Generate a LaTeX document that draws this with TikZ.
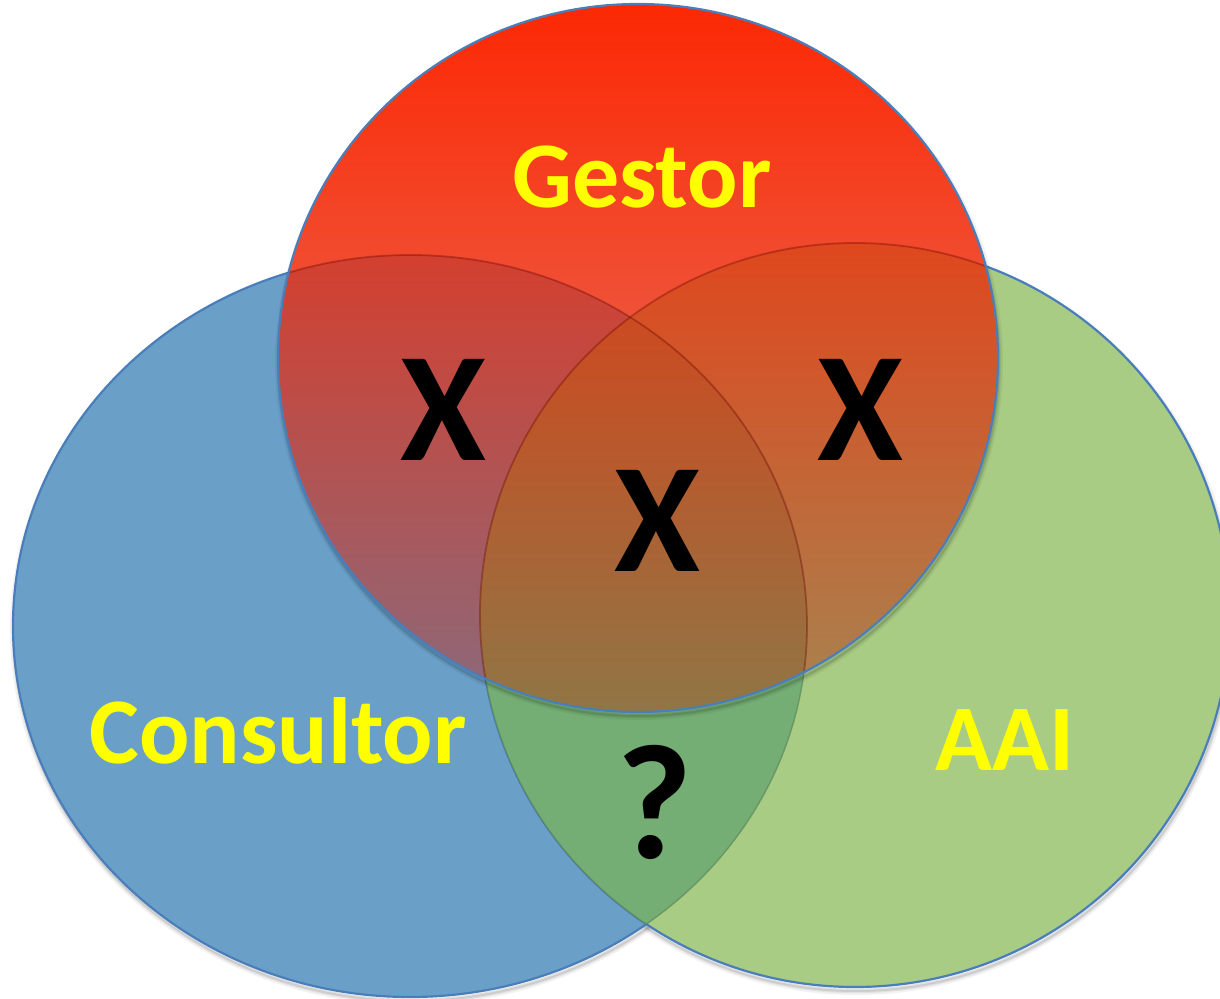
\documentclass[tikz,border=0pt]{standalone}
\usepackage{fontspec}
\setmainfont{Carlito}
\definecolor{cblue}{HTML}{6AA0C8}
\definecolor{cgreen}{HTML}{A8CC84}
\definecolor{cboth}{HTML}{74AE74}
\definecolor{edge}{HTML}{4A7EBB}
\definecolor{redtop}{RGB}{252,40,4}
\definecolor{redwhite}{RGB}{223,135,121}
\definecolor{redblue}{RGB}{138,106,124}
\definecolor{redgreen}{RGB}{167,132,80}
\definecolor{redboth}{RGB}{144,118,69}
\definecolor{lbl}{HTML}{FFFF00}
\begin{document}
\begin{tikzpicture}[x=0.5pt,y=-0.5pt,
  rim/.style={draw=edge, line width=1.1pt},
  inner/.style={draw=cboth!75!black, line width=0.7pt, draw opacity=0.6},
  ghost/.style={draw=black!60!red, line width=0.9pt, draw opacity=0.35},
  shade1/.style={draw=black, draw opacity=0.05, line width=4pt},
  shade2/.style={draw=black, draw opacity=0.07, line width=2.2pt},
  shade3/.style={draw=black, draw opacity=0.09, line width=1pt},
  lab/.style={text=lbl, font=\fontsize{47}{47}\selectfont\bfseries, anchor=base, inner sep=0pt},
  xmark/.style={text=black, font=\fontsize{78}{78}\selectfont\bfseries, anchor=base, inner sep=0pt}]
\def\Blue{(410,626) ellipse [x radius=397, y radius=371]}
\def\Green{(855,615) ellipse [x radius=375, y radius=372]}
\def\Red{(638,358) ellipse [x radius=360, y radius=354]}
\useasboundingbox (0,0) rectangle (1220,999);
\clip (0,0) rectangle (1220,999);
% shadows of blue and green on the white ground
\foreach \s in {shade1,shade2,shade3}{
  \draw[\s] (411,630) ellipse [x radius=397, y radius=371];
  \draw[\s] (856,619) ellipse [x radius=375, y radius=372];
}
% blue circle
\fill[cblue] \Blue;
\draw[rim] \Blue;
% green circle
\fill[cgreen] \Green;
\draw[rim] \Green;
% blue-green overlap
\begin{scope}
  \clip \Blue;
  \fill[cboth] \Green;
  \draw[inner] \Green;
\end{scope}
\begin{scope}
  \clip \Green;
  \draw[inner] \Blue;
\end{scope}
% shadow of red circle, outside it only
\begin{scope}[even odd rule]
  \clip (0,0) rectangle (1220,999) \Red;
  \foreach \s in {shade1,shade2,shade3}{
    \draw[\s] (639,362) ellipse [x radius=360, y radius=354];
  }
\end{scope}
% red circle: semi-transparent red, drawn region by region
\begin{scope}
  \clip \Red;
  \shade[top color=redtop, bottom color=redwhite] \Red;
  \begin{scope}
    \clip \Blue;
    \shade[top color=redtop, bottom color=redblue] \Red;
  \end{scope}
  \begin{scope}
    \clip \Green;
    \shade[top color=redtop, bottom color=redgreen] \Red;
  \end{scope}
  \begin{scope}
    \clip \Blue;
    \clip \Green;
    \shade[top color=redtop, bottom color=redboth] \Red;
  \end{scope}
  \draw[ghost] \Blue;
  \draw[ghost] \Green;
\end{scope}
\draw[rim] \Red;
% labels
\node[lab] (gestor) at (642,208) {Gestor};
\node[lab] (consultor) at (278,763) {Consultor};
\node[lab] (aai) at (1005,770) {AAI};
\node[xmark] (x1) at (443,461) {X};
\node[xmark] (x2) at (860,461) {X};
\node[xmark] (x3) at (657,572) {X};
\node[xmark, font=\fontsize{82}{82}\selectfont\bfseries] (q) at (654,858) {?};
\end{tikzpicture}
\end{document}
